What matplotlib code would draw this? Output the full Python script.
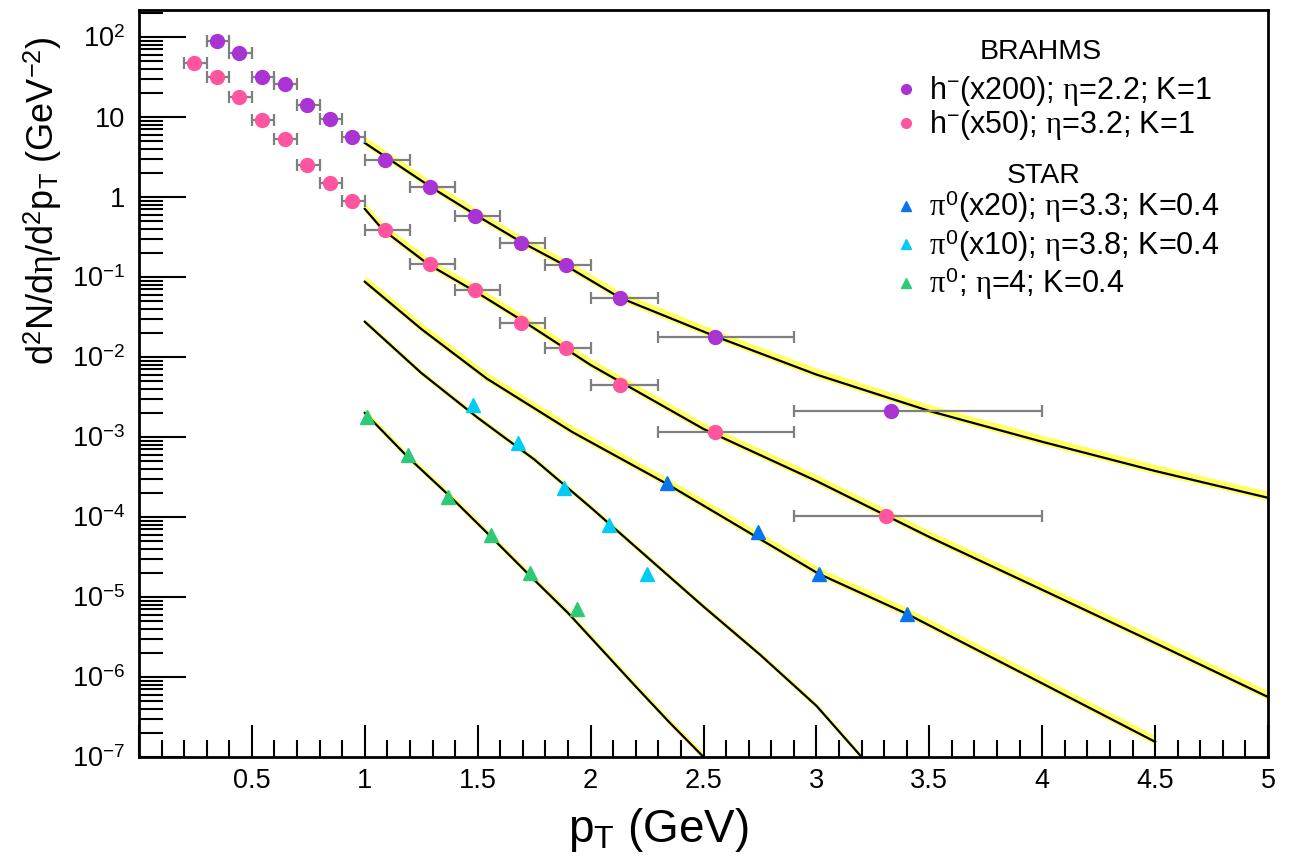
import numpy as np
import matplotlib.pyplot as plt
from matplotlib.ticker import FixedLocator, MultipleLocator, FuncFormatter, NullFormatter

plt.rcParams['font.family'] = ['Liberation Sans', 'DejaVu Sans']
plt.rcParams['mathtext.fontset'] = 'custom'
plt.rcParams['mathtext.rm'] = 'Liberation Sans'
plt.rcParams['mathtext.it'] = 'Liberation Serif'
plt.rcParams['mathtext.bf'] = 'Liberation Sans:bold'

# %% BRAHMS h- data (pT, yield, bin edges)
h22_pt = [0.345, 0.445, 0.545, 0.645, 0.745, 0.845, 0.945, 1.09, 1.29, 1.49, 1.69, 1.89, 2.13, 2.55, 3.33]
h22_y = [89, 63, 31.6, 25.9, 14.1, 9.4, 5.6, 2.9, 1.33, 0.57, 0.266, 0.141, 0.055, 0.018, 0.0021]
h22_lo = [0.3, 0.4, 0.5, 0.6, 0.7, 0.8, 0.9, 1.0, 1.2, 1.4, 1.6, 1.8, 2.0, 2.3, 2.9]
h22_hi = [0.4, 0.5, 0.6, 0.7, 0.8, 0.9, 1.0, 1.2, 1.4, 1.6, 1.8, 2.0, 2.3, 2.9, 4.0]

h32_pt = [0.245, 0.345, 0.445, 0.545, 0.645, 0.745, 0.845, 0.945, 1.09, 1.29, 1.49, 1.69, 1.89, 2.13, 2.55, 3.31]
h32_y = [47, 31.6, 17.8, 9.2, 5.3, 2.5, 1.5, 0.89, 0.39, 0.145, 0.069, 0.0266, 0.0129, 0.0045, 0.00115, 1.03e-4]
h32_lo = [0.2, 0.3, 0.4, 0.5, 0.6, 0.7, 0.8, 0.9, 1.0, 1.2, 1.4, 1.6, 1.8, 2.0, 2.3, 2.9]
h32_hi = [0.3, 0.4, 0.5, 0.6, 0.7, 0.8, 0.9, 1.0, 1.2, 1.4, 1.6, 1.8, 2.0, 2.3, 2.9, 4.0]

# %% STAR pi0 data
pi33_pt = [2.34, 2.74, 3.01, 3.40]
pi33_y = [2.66e-4, 6.5e-5, 1.95e-5, 6.1e-6]
pi38_pt = [1.48, 1.68, 1.88, 2.08, 2.25]
pi38_y = [2.5e-3, 8.4e-4, 2.3e-4, 7.9e-5, 1.95e-5]
pi40_pt = [1.01, 1.19, 1.37, 1.56, 1.73, 1.94]
pi40_y = [1.8e-3, 6.0e-4, 1.8e-4, 6.0e-5, 2.0e-5, 7.1e-6]

# %% model curves (log10 of yield)
c1_pt = [1.0, 1.3, 1.5, 1.7, 1.9, 2.13, 2.55, 3.0, 3.5, 4.0, 4.5, 5.0]
c1_log = [0.675, 0.11, -0.24, -0.575, -0.875, -1.26, -1.74, -2.22, -2.675, -3.06, -3.425, -3.76]
c2_pt = [1.0, 1.08, 1.28, 1.5, 1.7, 2.0, 2.5, 3.0, 3.5, 4.0, 4.5, 5.0]
c2_log = [-0.15, -0.41, -0.84, -1.2, -1.55, -2.1, -2.9, -3.55, -4.25, -4.91, -5.575, -6.25]
c3_pt = [1.0, 1.25, 1.54, 1.92, 2.34, 2.66, 3.01, 3.40, 4.0, 4.5]
c3_log = [-1.06, -1.65, -2.27, -2.94, -3.59, -4.125, -4.71, -5.21, -6.08, -6.81]
c4_pt = [1.0, 1.25, 1.5, 1.75, 2.0, 2.25, 2.5, 2.75, 3.0, 3.2]
c4_log = [-1.56, -2.2, -2.76, -3.28, -3.88, -4.5, -5.12, -5.72, -6.36, -7.0]
c5_pt = [1.0, 1.19, 1.38, 1.56, 1.73, 1.9, 2.05, 2.2, 2.35, 2.5]
c5_log = [-2.70, -3.25, -3.75, -4.25, -4.73, -5.2, -5.66, -6.12, -6.57, -7.0]

fig = plt.figure(figsize=(13.09, 8.61), dpi=100)
ax = fig.add_axes([139 / 1309, 1 - 757 / 861, 1129 / 1309, 747 / 861])
ax.set_yscale('log')

# bands + curves
curves = [(c1_pt, c1_log, 0.08, 0.035), (c2_pt, c2_log, 0.08, 0.035), (c3_pt, c3_log, 0.08, 0.035),
          (c4_pt, c4_log, 0.04, 0.03), (c5_pt, c5_log, 0.05, 0.03)]
for cx, cl, up, dn in curves:
    cx = np.array(cx)
    cl = np.array(cl)
    ax.fill_between(cx, 10 ** (cl - dn), 10 ** (cl + up), color='#ffff60', lw=0, zorder=1)
    ax.plot(cx, 10 ** cl, color='black', lw=1.6, zorder=2)

# data points
def brahms(pt, y, lo, hi, color):
    pt = np.array(pt)
    xerr = [pt - np.array(lo), np.array(hi) - pt]
    ax.errorbar(pt, y, xerr=xerr, fmt='none', ecolor='#7f7f7f', elinewidth=1.6,
                capsize=4, capthick=1.6, zorder=3)
    return ax.plot(pt, y, 'o', color=color, ms=10, mec=color, zorder=4)[0]

p1 = brahms(h22_pt, h22_y, h22_lo, h22_hi, '#aa33d4')
p2 = brahms(h32_pt, h32_y, h32_lo, h32_hi, '#ff559f')
t1 = ax.plot(pi33_pt, pi33_y, '^', color='#0a73f0', ms=10, zorder=4)[0]
t2 = ax.plot(pi38_pt, pi38_y, '^', color='#00ccf5', ms=10, zorder=4)[0]
t3 = ax.plot(pi40_pt, pi40_y, '^', color='#2ec878', ms=10, zorder=4)[0]

ax.set_xlim(0, 5)
ax.set_ylim(1e-7, 217)

# ticks, ROOT style
ax.xaxis.set_major_locator(MultipleLocator(0.5))
ax.xaxis.set_minor_locator(MultipleLocator(0.1))
ax.xaxis.set_major_formatter(FuncFormatter(lambda v, p: '' if v == 0 else ('%g' % v)))
ax.yaxis.set_major_locator(FixedLocator([10.0 ** k for k in range(-7, 3)]))
ax.yaxis.set_minor_locator(FixedLocator([m * 10.0 ** k for k in range(-7, 3) for m in range(2, 10)]))
ax.yaxis.set_minor_formatter(NullFormatter())

def ylab(v, p):
    k = int(round(np.log10(v)))
    if k == 0:
        return '1'
    if k == 1:
        return '10'
    return '10$^{%d}$' % k

ax.yaxis.set_major_formatter(FuncFormatter(ylab))
ax.tick_params(axis='x', which='major', direction='in', length=23, width=1.5, labelsize=19.5, pad=8,
               top=False)
ax.tick_params(axis='x', which='minor', direction='in', length=12, width=1.5, top=False)
ax.tick_params(axis='y', which='major', direction='in', length=34, width=1.5, labelsize=19.5, pad=10,
               right=False)
ax.tick_params(axis='y', which='minor', direction='in', length=17, width=1.5, right=False)
for s in ax.spines.values():
    s.set_linewidth(2)

ax.set_xlabel('p$_{\\mathrm{T}}$ (GeV)', fontsize=33, labelpad=2)
ax.xaxis.set_label_coords(0.46, -0.065)
ax.set_ylabel('d$^{2}$N/d$\\eta$/d$^{2}$p$_{\\mathrm{T}}$ (GeV$^{-2}$)', fontsize=26)
ax.yaxis.set_label_coords(-0.066, 0.745)

# legend
ax.text(0.799, 0.944, 'BRAHMS', transform=ax.transAxes, fontsize=20.5, ha='center', va='center')
ax.text(0.801, 0.778, 'STAR', transform=ax.transAxes, fontsize=20.5, ha='center', va='center')
leg1 = ax.legend([p1, p2], ['h$^{-}$(x200); $\\eta$=2.2; K=1', 'h$^{-}$(x50); $\\eta$=3.2; K=1'],
                 loc='upper left', bbox_to_anchor=(0.67, 0.914), frameon=False, fontsize=22,
                 handlelength=0.7, handletextpad=0.4, markerscale=0.7, borderpad=0,
                 labelspacing=0.0, borderaxespad=0)
ax.add_artist(leg1)
ax.legend([t1, t2, t3], ['$\\pi^{0}$(x20); $\\eta$=3.3; K=0.4', '$\\pi^{0}$(x10); $\\eta$=3.8; K=0.4',
                         '$\\pi^{0}$; $\\eta$=4; K=0.4'],
          loc='upper left', bbox_to_anchor=(0.67, 0.761), frameon=False, fontsize=22,
          handlelength=0.7, handletextpad=0.4, markerscale=0.7, borderpad=0,
          labelspacing=0.05, borderaxespad=0)

fig.savefig('out.png', dpi=100)
